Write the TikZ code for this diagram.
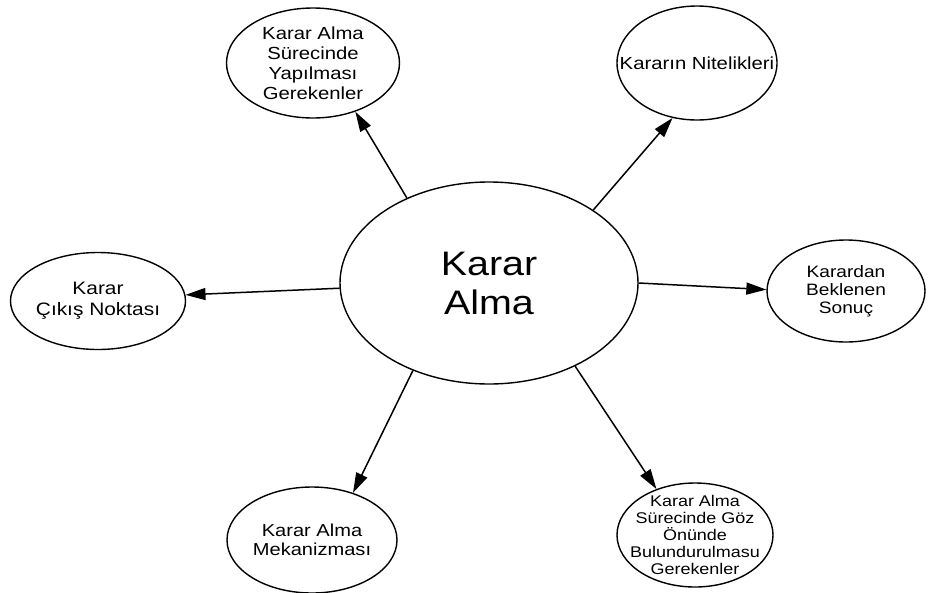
\documentclass[tikz,border=0pt]{standalone}
\usepackage{fontspec}
\setmainfont[FakeStretch=1.16]{Liberation Sans}
\usetikzlibrary{arrows.meta,shapes.geometric}
\begin{document}
\begin{tikzpicture}[x=1pt,y=-1pt,
  % negative inner sep lets the minimum sizes fix each ellipse
  bubble/.style={draw, ellipse, line width=1.4pt, inner sep=-60pt, align=center},
  link/.style={line width=1.5pt, -{Triangle[length=20pt,width=12pt]}}]
\useasboundingbox (0,0) rectangle (929,592);

% central topic
\node[bubble, minimum width=298pt, minimum height=202pt,
      font=\fontsize{34}{39}\selectfont] (c) at (489,283) {Karar\\Alma};

% surrounding topics
\node[bubble, minimum width=173pt, minimum height=110pt,
      font=\fontsize{17.5}{20}\selectfont] (tl) at (313,63)
      {Karar Alma\\Sürecinde\\Yapılması\\Gerekenler};
\node[bubble, minimum width=160pt, minimum height=114pt,
      font=\fontsize{17.5}{20}\selectfont] (tr) at (697,63)
      {Kararın Nitelikleri};
\node[bubble, minimum width=175pt, minimum height=97pt,
      font=\fontsize{18}{21}\selectfont] (l) at (98,301)
      {Karar\\Çıkış Noktası};
\node[bubble, minimum width=158pt, minimum height=102pt,
      font=\fontsize{16.5}{18}\selectfont] (r) at (846,291)
      {Karardan\\Beklenen\\Sonuç};
\node[bubble, minimum width=170pt, minimum height=106pt,
      font=\fontsize{17.3}{19}\selectfont] (bl) at (312,540)
      {Karar Alma\\Mekanizması};
\node[bubble, minimum width=156pt, minimum height=104pt,
      font=\fontsize{15.5}{17}\selectfont] (br) at (695,535)
      {Karar Alma\\Sürecinde Göz\\Önünde\\Bulundurulmasu\\Gerekenler};

% connectors
\draw[link] (c.134) -- (tl.-49);
\draw[link] (c.35.5) -- (tr.-114);
\draw[link] (c.182) -- (l.4);
\draw[link] (c.-0.8) -- (r.179);
\draw[link] (c.229.6) -- (bl.49.5);
\draw[link] (c.-44) -- (br.130);
\end{tikzpicture}
\end{document}
